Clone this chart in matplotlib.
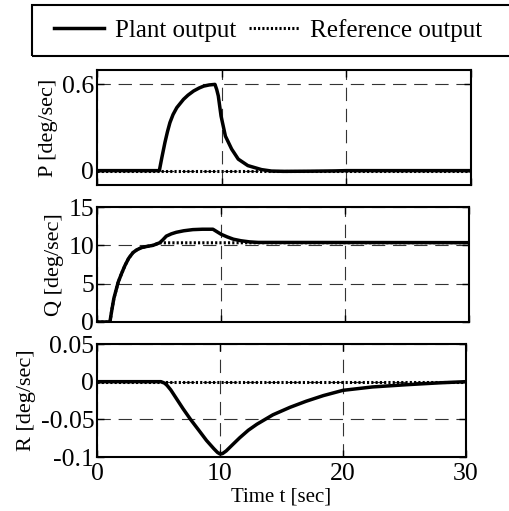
import matplotlib
matplotlib.use("Agg")
import matplotlib.pyplot as plt
from matplotlib.patches import Rectangle
from matplotlib.lines import Line2D

# ---------------- data ----------------
t_P = [0, 5.0, 5.2, 5.45, 5.65, 5.85, 6.1, 6.4, 6.94, 7.3, 7.75, 8.2, 8.56, 9.0, 9.46,
       9.6, 9.73, 9.95, 10.3, 10.8, 11.33, 12.1, 13.2, 14.0, 15.0, 17.0, 19.0, 20.0, 30.0]
P_plant = [0, 0, 0.09, 0.196, 0.27, 0.334, 0.39, 0.438, 0.496, 0.525, 0.554, 0.575,
           0.588, 0.596, 0.6, 0.565, 0.52, 0.38, 0.24, 0.15, 0.08, 0.035, 0.007, -0.003,
           -0.005, -0.004, -0.002, 0, 0]
t_Pref = [0, 30]
P_ref = [0, 0]

t_Q = [0, 1.04, 1.2, 1.36, 1.71, 2.0, 2.25, 2.55, 2.9, 3.2, 3.58, 4.0, 4.52, 5.05, 5.3,
       5.59, 6.0, 6.39, 7.0, 7.73, 8.5, 9.35, 9.6, 10.0, 10.5, 11.0, 11.6, 12.3, 13.0, 30.0]
Q_plant = [0, 0, 1.6, 3.08, 5.2, 6.4, 7.35, 8.3, 9.05, 9.4, 9.7, 9.85, 10.0, 10.33, 10.7,
           11.2, 11.5, 11.7, 11.9, 12.05, 12.1, 12.1, 11.85, 11.45, 11.1, 10.8, 10.6,
           10.45, 10.38, 10.35]
t_Qref = [0, 1.04, 1.2, 1.36, 1.71, 2.0, 2.25, 2.55, 2.9, 3.2, 3.58, 4.0, 4.52, 5.05, 30.0]
Q_ref = [0, 0, 1.6, 3.08, 5.2, 6.4, 7.35, 8.3, 9.05, 9.4, 9.7, 9.85, 10.0, 10.33, 10.35]

t_R = [0, 5.2, 5.5, 5.7, 6.0, 6.2, 7.0, 7.6, 8.3, 8.9, 9.5, 9.8, 10.0, 10.2, 10.5, 11.0,
       11.6, 12.3, 13.0, 14.3, 15.7, 17.0, 18.4, 20.0, 22.4, 25.2, 27.9, 30.0]
R_plant = [0, 0, -0.002, -0.005, -0.011, -0.016, -0.036, -0.05, -0.065, -0.078, -0.089,
           -0.094, -0.096, -0.0955, -0.092, -0.084, -0.0745, -0.0645, -0.0565, -0.044,
           -0.034, -0.026, -0.0185, -0.0115, -0.007, -0.004, -0.0015, 0]
t_Rref = [0, 30]
R_ref = [0, 0]

x_ticks = [0, 10, 20, 30]
x_ticklabels = ["0", "10", "20", "30"]
P_ticks = [0, 0.6]
P_ticklabels = ["0", "0.6"]
Q_ticks = [0, 5, 10, 15]
Q_ticklabels = ["0", "5", "10", "15"]
R_ticks = [-0.1, -0.05, 0, 0.05]
R_ticklabels = ["-0.1", "-0.05", "0", "0.05"]

labels = ["P [deg/sec]", "Q [deg/sec]", "R [deg/sec]"]
legend_labels = ["Plant output", "Reference output"]

# ---------------- style ----------------
plt.rcParams["font.family"] = ["Liberation Serif", "DejaVu Serif"]
plt.rcParams["axes.unicode_minus"] = False

W, H = 510, 511
fig = plt.figure(figsize=(W / 100, H / 100), dpi=100)

def ax_rect(l, r, t, b):
    return [l / W, 1 - b / H, (r - l) / W, (b - t) / H]

axP = fig.add_axes(ax_rect(97, 471, 70, 185))
axQ = fig.add_axes(ax_rect(97, 469, 207, 322))
axR = fig.add_axes(ax_rect(97, 466, 344, 457))

plant_kw = dict(color="black", lw=2.5, solid_joinstyle="round", zorder=3)
ref_kw = dict(color="black", lw=2.2, linestyle=(0, (0.7, 0.7)), zorder=4)

panels = [
    (axP, t_P, P_plant, t_Pref, P_ref, P_ticks, P_ticklabels, (-0.1, 0.7)),
    (axQ, t_Q, Q_plant, t_Qref, Q_ref, Q_ticks, Q_ticklabels, (0, 15)),
    (axR, t_R, R_plant, t_Rref, R_ref, R_ticks, R_ticklabels, (-0.1, 0.05)),
]

for i, (ax, tp, yp, tr, yr, yt, ytl, ylim) in enumerate(panels):
    ax.plot(tp, yp, **plant_kw)
    ax.plot(tr, yr, **ref_kw)
    ax.set_xlim(0, 30)
    ax.set_ylim(*ylim)
    ax.set_xticks(x_ticks)
    ax.set_yticks(yt)
    ax.set_yticklabels(ytl)
    ax.grid(True, color="#333333", lw=0.8, linestyle=(0, (12, 7)))
    ax.tick_params(direction="in", length=5, width=1, labelsize=18.5, pad=2,
                   top=True, right=True)
    for s in ax.spines.values():
        s.set_linewidth(1.5)
    ax.set_ylabel(labels[i], fontsize=16, labelpad=3)
    if ax is axR:
        ax.set_xticklabels(x_ticklabels)
        ax.tick_params(axis="x", pad=4)
        ax.set_xlabel("Time t [sec]", fontsize=15, labelpad=2)
    else:
        ax.set_xticklabels([])

# legend with square frame
fig.add_artist(Rectangle((32 / W, 1 - 56 / H), (511 - 32) / W, 51 / H,
                         transform=fig.transFigure, fill=False, edgecolor="black",
                         lw=1.5))
handles = [Line2D([], [], **plant_kw), Line2D([], [], **ref_kw)]
fig.legend(handles, legend_labels, loc="center", bbox_to_anchor=(268 / W, 1 - 30.5 / H),
           ncol=2, frameon=False, fontsize=18, handlelength=2.0, handletextpad=0.45,
           columnspacing=0.5, borderaxespad=0, borderpad=0)

fig.savefig("out.png", dpi=100)
